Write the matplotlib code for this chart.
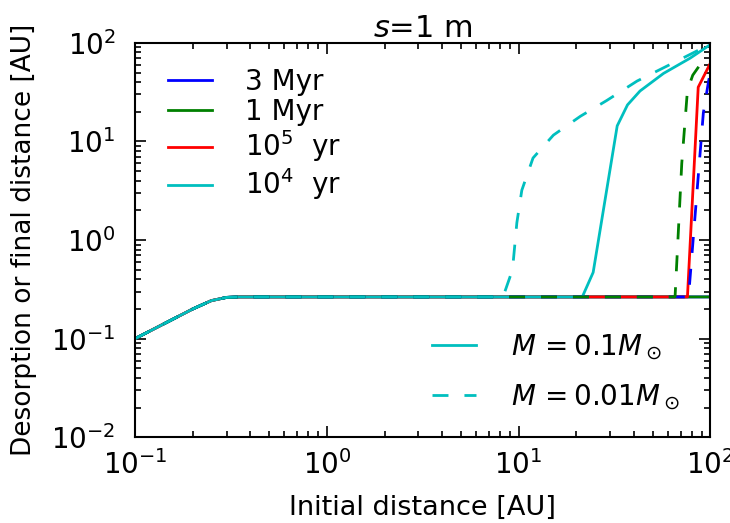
import numpy as np
import matplotlib
matplotlib.use("Agg")
import matplotlib.pyplot as plt

# shared inner part (all curves coincide here)
x_base = [0.1, 0.15, 0.2, 0.25, 0.3, 0.35]
y_base = [0.1, 0.15, 0.2, 0.243, 0.262, 0.265]
plateau = 0.265

# M = 0.1 Msun (solid)
x_3myr_a = x_base + [100]
y_3myr_a = y_base + [plateau]
x_1myr_a = x_base + [100]
y_1myr_a = y_base + [plateau]
x_1e5_a = x_base + [76, 86.5, 100]
y_1e5_a = y_base + [plateau, 35.5, 62]
x_1e4_a = x_base + [21.5, 24.5, 32.7, 37, 43, 57, 78.5, 100]
y_1e4_a = y_base + [plateau, 0.47, 14.4, 23.5, 32.5, 49, 70, 96]

# M = 0.01 Msun (dashed)
x_3myr_b = x_base + [77, 92, 98, 100]
y_3myr_b = y_base + [plateau, 19.5, 41, 50]
x_1myr_b = x_base + [65.5, 71, 76, 81, 90, 100]
y_1myr_b = y_base + [plateau, 6, 33, 47, 63, 72]
x_1e4_b = x_base + [8.3, 9.3, 9.8, 10.4, 11.9, 15.2, 21, 28.8, 41.5, 64.5, 100]
y_1e4_b = y_base + [plateau, 0.5, 1.5, 3.2, 6.8, 11.6, 18, 26, 41, 63, 97]

time_labels = ["3 Myr", "1 Myr", r"$10^5$  yr", r"$10^4$  yr"]
mass_labels = [r"$M\,=0.1M_\odot$", r"$M\,=0.01M_\odot$"]

plt.rcParams["lines.scale_dashes"] = False

fig = plt.figure(figsize=(7.3, 5.23), dpi=100)
ax = fig.add_axes([0.185, 0.164, 0.788, 0.754])

dash = (0, (11.5, 11.5))
lw = 2
l1, = ax.plot(x_3myr_a, y_3myr_a, color="b", lw=lw)
l2, = ax.plot(x_1myr_a, y_1myr_a, color="g", lw=lw)
l3, = ax.plot(x_1e5_a, y_1e5_a, color="r", lw=lw)
l4, = ax.plot(x_1e4_a, y_1e4_a, color="c", lw=lw)
ax.plot(x_3myr_b, y_3myr_b, color="b", lw=lw, ls=dash)
ax.plot(x_1myr_b, y_1myr_b, color="g", lw=lw, ls=dash)
l5, = ax.plot(x_1e4_b, y_1e4_b, color="c", lw=lw, ls=dash)

ax.set_xscale("log")
ax.set_yscale("log")
ax.set_xlim(0.1, 100)
ax.set_ylim(0.01, 100)

for s in ax.spines.values():
    s.set_linewidth(1.5)
ax.tick_params(which="both", direction="in", top=True, right=True, labelsize=20, width=1.2)
ax.tick_params(which="major", length=8, pad=9)
ax.tick_params(which="minor", length=4)
ax.tick_params(axis="y", which="major", pad=14)

ax.set_xlabel("Initial distance [AU]", fontsize=19.5, labelpad=11)
ax.set_ylabel("Desorption or final distance [AU]", fontsize=19)
ax.yaxis.set_label_coords(-0.17, 0.5)
ax.set_title(r"$s$=1 m", fontsize=22, pad=4)

leg1 = ax.legend([l1, l2, l3, l4], time_labels, loc="upper left", frameon=False,
                 fontsize=20, labelspacing=0.08, handlelength=1.6, handletextpad=1.2,
                 bbox_to_anchor=(0.013, 1.0))
ax.add_artist(leg1)
ax.legend([l4, l5], mass_labels, loc="lower right", frameon=False,
          fontsize=20, labelspacing=0.75, handlelength=1.6, handletextpad=1.25,
          bbox_to_anchor=(0.99, 0.0))

fig.savefig("out.png", dpi=100)
